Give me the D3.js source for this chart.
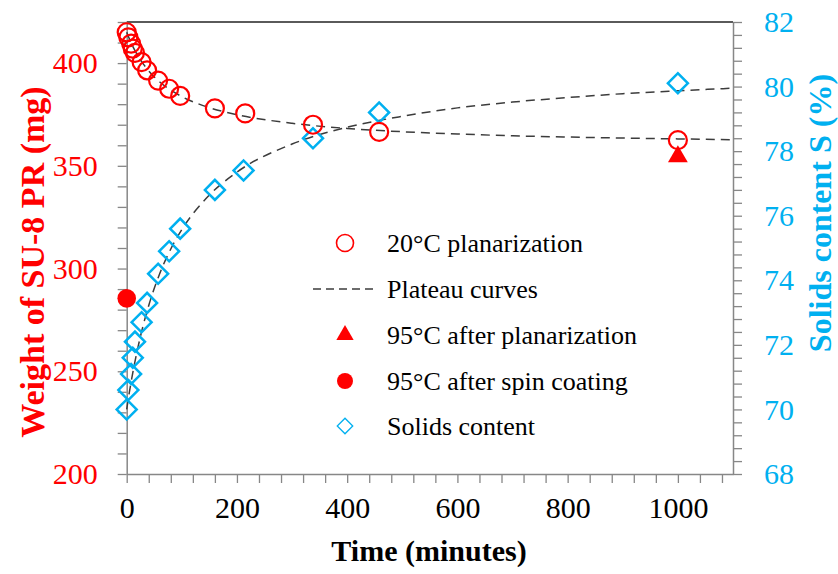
<!DOCTYPE html>
<html>
<head>
<meta charset="utf-8">
<script src="https://cdn.jsdelivr.net/npm/d3@7"></script>
<style>
  html, body { margin: 0; padding: 0; background: #fff; }
  svg { display: block; }
</style>
</head>
<body>
<svg id="chart" width="838" height="574"></svg>
<script>
// Time axis (minutes)
const timeTicks = [0, 200, 400, 600, 800, 1000];
const weightTicks = [200, 250, 300, 350, 400];
const solidsTicks = [68, 70, 72, 74, 76, 78, 80, 82];

// 20 °C planarization: weight of SU-8 PR (mg)
const planTime   = [0, 3, 8, 11, 15, 27, 37, 57, 77, 97, 160, 215, 338, 458, 1000];
const planWeight = [415, 412.5, 409.5, 407, 405, 400.5, 396.5, 391.5, 387.5, 384, 378, 375.5, 370, 366.5, 362.5];

// Solids content S (%)
const solidsTime    = [0, 3, 8, 11, 15, 27, 37, 57, 77, 97, 160, 212, 338, 458, 1000];
const solidsContent = [70.0, 70.6, 71.1, 71.6, 72.1, 72.7, 73.3, 74.2, 74.9, 75.6, 76.8, 77.4, 78.4, 79.2, 80.1];

// Baked samples (mg)
const bakedPlanTime = [1000], bakedPlanWeight = [354.5];
const bakedSpinTime = [0],    bakedSpinWeight = [285.5];

// Plateau curves
const curveTime    = [0, 5, 10, 20, 30, 40, 60, 80, 100, 150, 200, 300, 400, 500, 600, 700, 800, 900, 1000, 1100];
const weightCurve  = [415, 411.7, 408.7, 403.7, 399.6, 396.2, 390.8, 386.8, 383.7, 378.3, 374.9, 370.7, 368.2, 366.6, 365.5, 364.6, 364.0, 363.5, 363.1, 362.7];
const solidsCurve  = [70.0, 70.55, 71.04, 71.89, 72.61, 73.22, 74.21, 74.97, 75.57, 76.64, 77.35, 78.22, 78.74, 79.08, 79.34, 79.52, 79.66, 79.78, 79.87, 79.95];

const legendLabels = ["20°C planarization", "Plateau curves", "95°C after planarization", "95°C after spin coating", "Solids content"];

const RED = "#FF0000", BLUE = "#00B0F0", AXIS = "#878787";
const FONT = "'Liberation Serif'";

const svg = d3.select("#chart");
const plot = { left: 126.7, right: 733, top: 22, bottom: 474 };

const x  = d3.scaleLinear().domain([0, 1100]).range([plot.left, plot.right]);
const yL = d3.scaleLinear().domain([200, 420]).range([plot.bottom, plot.top]);
const yR = d3.scaleLinear().domain([68, 82]).range([plot.bottom, plot.top]);

// top frame line
svg.append("line")
  .attr("x1", plot.left).attr("x2", plot.right).attr("y1", plot.top).attr("y2", plot.top)
  .attr("stroke", "#5a5a5a").attr("stroke-width", 2);

function styleAxis(g, color) {
  g.attr("font-family", null).attr("font-size", null);
  g.select(".domain").attr("stroke", AXIS).attr("stroke-width", 1.5);
  g.selectAll(".tick line").attr("stroke", AXIS).attr("stroke-width", 1.3);
  g.selectAll(".tick text").attr("fill", color)
    .style("font-family", FONT).style("font-size", "30px");
}

// bottom axis
const xAxis = d3.axisBottom(x)
  .tickValues(d3.range(0, 1100, 40))
  .tickSize(9).tickSizeOuter(0).tickPadding(14)
  .tickFormat(d => timeTicks.includes(d) ? d : "");
svg.append("g").attr("transform", `translate(0,${plot.bottom})`).call(xAxis)
  .call(g => styleAxis(g, "#000"));

// left axis
const yLAxis = d3.axisLeft(yL)
  .tickValues(d3.range(200, 421, 10))
  .tickSize(9).tickSizeOuter(0).tickPadding(20)
  .tickFormat(d => weightTicks.includes(d) ? d : "");
svg.append("g").attr("transform", `translate(${plot.left},0)`).call(yLAxis)
  .call(g => styleAxis(g, RED));

// right axis
const yRAxis = d3.axisRight(yR)
  .tickValues(d3.range(0, 36).map(i => 68 + i * 0.4))
  .tickSize(9).tickSizeOuter(0).tickPadding(22)
  .tickFormat(d => solidsTicks.some(t => Math.abs(t - d) < 1e-6) ? Math.round(d) : "");
svg.append("g").attr("transform", `translate(${plot.right},0)`).call(yRAxis)
  .call(g => styleAxis(g, BLUE));

// axis titles
svg.append("text")
  .attr("x", 429).attr("y", 561)
  .attr("text-anchor", "middle")
  .style("font-family", FONT).style("font-size", "30px").style("font-weight", "bold")
  .text("Time (minutes)");

svg.append("text")
  .attr("transform", "translate(44,262) rotate(-90)")
  .attr("text-anchor", "middle")
  .attr("fill", RED)
  .style("font-family", FONT).style("font-size", "34px").style("font-weight", "bold")
  .text("Weight of SU-8 PR (mg)");

svg.append("text")
  .attr("transform", "translate(831,213) rotate(-90)")
  .attr("text-anchor", "middle")
  .attr("fill", BLUE)
  .style("font-family", FONT).style("font-size", "32px").style("font-weight", "bold")
  .text("Solids content S (%)");

// plateau curves
const dash = "9,6";
const weightLine = d3.line().x((d, i) => x(curveTime[i])).y(d => yL(d)).curve(d3.curveMonotoneX);
const solidsLine = d3.line().x((d, i) => x(curveTime[i])).y(d => yR(d)).curve(d3.curveMonotoneX);
svg.append("path").attr("d", weightLine(weightCurve))
  .attr("fill", "none").attr("stroke", "#3c3c3c").attr("stroke-width", 1.5).attr("stroke-dasharray", dash);
svg.append("path").attr("d", solidsLine(solidsCurve))
  .attr("fill", "none").attr("stroke", "#3c3c3c").attr("stroke-width", 1.5).attr("stroke-dasharray", dash);

// solids content diamonds
svg.append("g").selectAll("path").data(solidsContent).join("path")
  .attr("transform", (d, i) => `translate(${x(solidsTime[i])},${yR(d)}) rotate(45)`)
  .attr("d", d3.symbol().type(d3.symbolSquare).size(200)())
  .attr("fill", "none").attr("stroke", BLUE).attr("stroke-width", 2.5);

// planarization circles
svg.append("g").selectAll("circle").data(planWeight).join("circle")
  .attr("cx", (d, i) => x(planTime[i])).attr("cy", d => yL(d)).attr("r", 9)
  .attr("fill", "none").attr("stroke", RED).attr("stroke-width", 2.2);

// baked after planarization
svg.append("g").selectAll("path").data(bakedPlanWeight).join("path")
  .attr("transform", (d, i) => `translate(${x(bakedPlanTime[i])},${yL(d)})`)
  .attr("d", d3.symbol().type(d3.symbolTriangle).size(170)())
  .attr("fill", RED);

// baked after spin coating
svg.append("g").selectAll("circle").data(bakedSpinWeight).join("circle")
  .attr("cx", (d, i) => x(bakedSpinTime[i])).attr("cy", d => yL(d)).attr("r", 9.3)
  .attr("fill", RED);

// legend
const legY = [243, 289, 335, 381, 426];
const lg = svg.append("g");
const symX = 345;
lg.append("circle").attr("cx", symX).attr("cy", legY[0]).attr("r", 8.5)
  .attr("fill", "none").attr("stroke", RED).attr("stroke-width", 1.6);
lg.append("line").attr("x1", 313).attr("x2", 378).attr("y1", legY[1]).attr("y2", legY[1])
  .attr("stroke", "#3c3c3c").attr("stroke-width", 1.5).attr("stroke-dasharray", "8,5");
lg.append("path").attr("transform", `translate(${symX},${legY[2]})`)
  .attr("d", d3.symbol().type(d3.symbolTriangle).size(130)()).attr("fill", RED);
lg.append("circle").attr("cx", symX).attr("cy", legY[3]).attr("r", 8).attr("fill", RED);
lg.append("path").attr("transform", `translate(${symX},${legY[4]}) rotate(45)`)
  .attr("d", d3.symbol().type(d3.symbolSquare).size(120)())
  .attr("fill", "none").attr("stroke", BLUE).attr("stroke-width", 1.3);
lg.selectAll("text").data(legendLabels).join("text")
  .attr("x", 387).attr("y", (d, i) => legY[i]).attr("dy", "0.35em")
  .style("font-family", FONT).style("font-size", "26px").attr("fill", "#000")
  .text(d => d);
</script>
</body>
</html>
